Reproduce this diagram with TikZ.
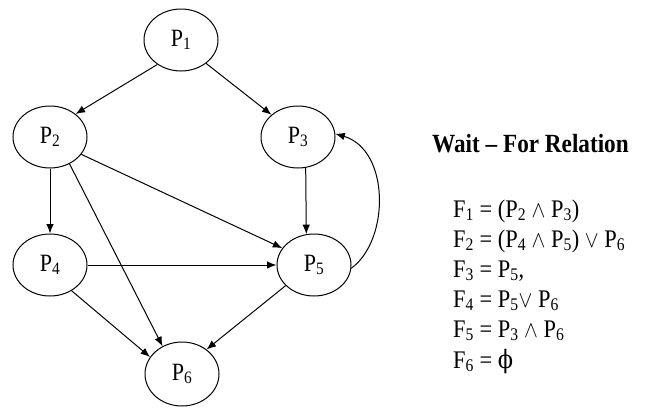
\documentclass[tikz,border=0pt]{standalone}
\usepackage{graphicx}
\usepackage{fontspec}
\setmainfont{Liberation Serif}
\newfontfamily\dvserif{DejaVu Serif}
\usetikzlibrary{shapes.geometric,arrows.meta}
\newcommand\sbx[1]{\textsubscript{#1}}
\newcommand\vs[1]{\scalebox{1}[1.13]{#1}}
\begin{document}
\begin{tikzpicture}[x=1pt,y=-1pt,
  proc/.style={draw, ellipse, minimum width=74pt, minimum height=62pt, inner sep=0pt, line width=1pt, font=\fontsize{22}{26}\selectfont},
  arr/.style={-{Latex[length=9.5pt,width=7.5pt]}, line width=1pt},
  eq/.style={anchor=base west, inner sep=0pt, font=\fontsize{22.4}{26}\selectfont},
  ttl/.style={anchor=base west, inner sep=0pt, font=\bfseries\fontsize{23.2}{28}\selectfont}]
\useasboundingbox (0,0) rectangle (645,407);
\node[proc] (P1) at (181,40) {\vs{P\sbx{1}}};
\node[proc] (P2) at (50,137) {\vs{P\sbx{2}}};
\node[proc] (P3) at (298,137) {\vs{P\sbx{3}}};
\node[proc] (P4) at (50,265) {\vs{P\sbx{4}}};
\node[proc] (P5) at (314,265) {\vs{P\sbx{5}}};
\node[proc, minimum height=64pt] (P6) at (182,374) {\vs{P\sbx{6}}};
\draw[arr] (P1.226) -- (P2.42);
\draw[arr] (P1.317) -- (P3.140);
\draw[arr] (P2.south) -- (P4.north);
\draw[arr] (P2.306) -- (P6.125);
\draw[arr] (P2.331) -- (P5.152);
\draw[arr] (P4.east) -- (P5.west);
\draw[arr] (P4.310) -- (P6.152);
\draw[arr] (P5.216) -- (P6.45);
\draw[arr] (P3.-76) -- (P5.104);
\draw[arr] (P5.-5) .. controls (390,240) and (390,150) .. (P3.5);
\node[ttl] (title) at (432,152) {\vs{Wait – For Relation}};
\node[eq] (f1) at (453,217) {\vs{F\sbx{1} = (P\sbx{2} $\wedge$ P\sbx{3})}};
\node[eq] (f2) at (453,247) {\vs{F\sbx{2} = (P\sbx{4} $\wedge$ P\sbx{5}) $\vee$ P\sbx{6}}};
\node[eq] (f3) at (453,277) {\vs{F\sbx{3} = P\sbx{5},}};
\node[eq] (f4) at (453,307) {\vs{F\sbx{4} = P\sbx{5}$\vee$ P\sbx{6}}};
\node[eq] (f5) at (453,337) {\vs{F\sbx{5} = P\sbx{3} $\wedge$ P\sbx{6}}};
\node[eq] (f6) at (453,368) {\vs{F\sbx{6} = {\dvserif ϕ}}};
\end{tikzpicture}
\end{document}
